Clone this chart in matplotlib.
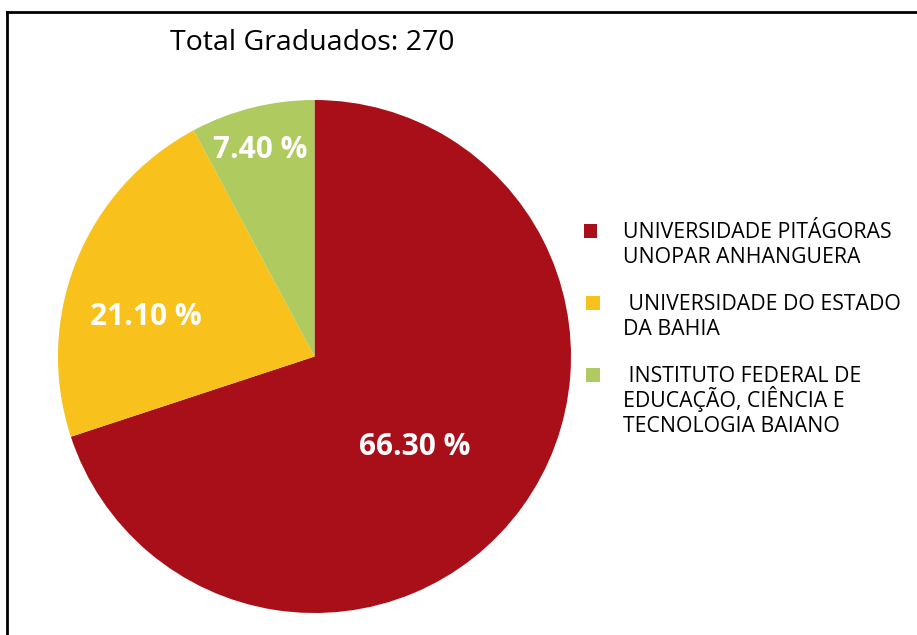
import matplotlib
matplotlib.use("Agg")
import matplotlib.pyplot as plt
from matplotlib.patches import Rectangle
from matplotlib.lines import Line2D

categories = ["UNIVERSIDADE PITÁGORAS\nUNOPAR ANHANGUERA",
              " UNIVERSIDADE DO ESTADO\nDA BAHIA",
              " INSTITUTO FEDERAL DE\nEDUCAÇÃO, CIÊNCIA E\nTECNOLOGIA BAIANO"]
values = [66.30, 21.10, 7.40]
colors = ["#A80F19", "#F8C11B", "#AFCA5E"]
title = "Total Graduados: 270"

plt.rcParams['font.family'] = ['Open Sans', 'DejaVu Sans']

W, H = 917, 635
fig = plt.figure(figsize=(W/100, H/100), dpi=100)

cx, cy, r = 314.5, 356.5, 256.5
ax = fig.add_axes([(cx - r)/W, (H - cy - r)/H, 2*r/W, 2*r/H])
ax.pie(values, colors=colors, startangle=90, counterclock=False, radius=1,
       wedgeprops=dict(linewidth=0))
ax.set_xlim(-1, 1)
ax.set_ylim(-1, 1)
ax.set_aspect('equal')
ax.axis('off')

label_pos = [(0.392, -0.353), (-0.657, 0.154), (-0.212, 0.805)]
for v, (x, y) in zip(values, label_pos):
    ax.text(x, y, f"{v:.2f} %", color="white", fontsize=21.5, fontweight="bold",
            ha="center", va="center")

fig.text(312/W, 1 - 50/H, title, ha="center", va="baseline", fontsize=20.5)

# border lines (left and top)
fig.add_artist(Line2D([7/W, 7/W], [0, 1 - 12/H], color="black", lw=2,
                      transform=fig.transFigure))
fig.add_artist(Line2D([7/W, 1], [1 - 12/H, 1 - 12/H], color="black", lw=2,
                      transform=fig.transFigure))

# legend
sq_y = [231, 303, 375]
sq_x = [590.5, 593, 593]
base_y = [238.5, 310.5, 382.5]
pitch = 24.8
s = 13.5
for i, lab in enumerate(categories):
    fig.add_artist(Rectangle(((sq_x[i] - s/2)/W, 1 - (sq_y[i] + s/2)/H), s/W, s/H,
                             transform=fig.transFigure, color=colors[i], lw=0))
    for j, line in enumerate(lab.split("\n")):
        fig.text(623/W, 1 - (base_y[i] + j*pitch)/H, line, ha="left",
                 va="baseline", fontsize=15.3)

fig.savefig("out.png", dpi=100)
